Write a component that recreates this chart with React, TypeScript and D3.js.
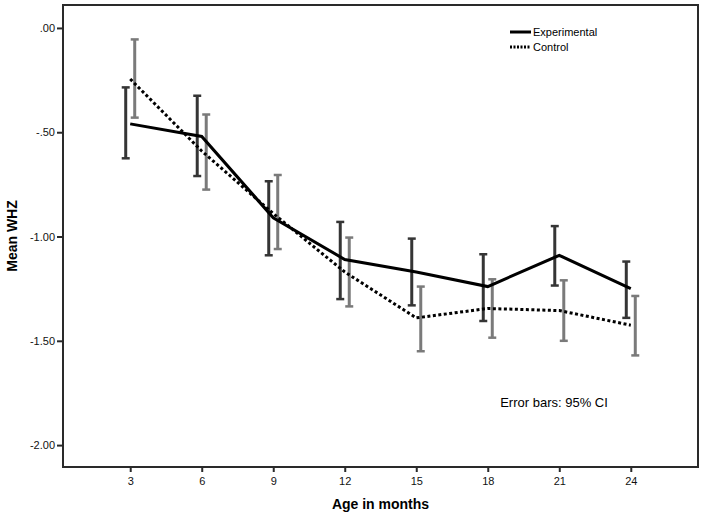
import React, { useEffect, useRef } from 'react';
import * as d3 from 'd3';

const months = ['3', '6', '9', '12', '15', '18', '21', '24'];
const yTicks = [0, -0.5, -1, -1.5, -2];

// Experimental group: mean WHZ with 95% CI
const expMean = [-0.46, -0.52, -0.91, -1.11, -1.17, -1.24, -1.09, -1.25];
const expLow = [-0.625, -0.71, -1.09, -1.3, -1.33, -1.405, -1.235, -1.39];
const expHigh = [-0.285, -0.325, -0.735, -0.93, -1.01, -1.085, -0.95, -1.12];

// Control group
const ctrlMean = [-0.245, -0.59, -0.89, -1.17, -1.39, -1.345, -1.355, -1.425];
const ctrlLow = [-0.43, -0.775, -1.06, -1.335, -1.55, -1.485, -1.5, -1.57];
const ctrlHigh = [-0.055, -0.415, -0.705, -1.005, -1.24, -1.205, -1.21, -1.285];

const W = 704;
const H = 522;
const FONT = '"Liberation Sans", Arial, sans-serif';

// SPSS style: .00, -.50, -1.00
const fmt = (d: number) => {
  const s = Math.abs(d).toFixed(2).replace(/^0\./, '.');
  return (d < 0 ? '-' : '') + s;
};

const Chart = () => {
  const ref = useRef<SVGSVGElement | null>(null);

  useEffect(() => {
    document.body.style.margin = '0';
    const svg = d3.select(ref.current);
    svg.selectAll('*').remove();

    const margin = { top: 5, right: 6, bottom: 55, left: 63 };
    const x = d3.scalePoint<string>()
      .domain(months)
      .range([margin.left, W - margin.right])
      .padding(0.94);
    const y = d3.scaleLinear()
      .domain([-2.105, 0.11])
      .range([H - margin.bottom, margin.top]);

    const series = [
      { mean: expMean, low: expLow, high: expHigh, off: -4.5, bar: '#353535', dash: null },
      { mean: ctrlMean, low: ctrlLow, high: ctrlHigh, off: 4.5, bar: '#7a7a7a', dash: '3,2.5' },
    ];

    // error bars first, lines on top
    series.forEach(s => {
      const g = svg.append('g').attr('stroke', s.bar).attr('stroke-width', 3).attr('fill', 'none');
      months.forEach((m, i) => {
        const cx = (x(m) as number) + s.off;
        g.append('line').attr('x1', cx).attr('x2', cx).attr('y1', y(s.low[i])).attr('y2', y(s.high[i]));
        [s.low[i], s.high[i]].forEach(v => {
          g.append('line')
            .attr('x1', cx - 4).attr('x2', cx + 4)
            .attr('y1', y(v)).attr('y2', y(v))
            .attr('stroke-width', 2.5);
        });
      });
    });

    const line = d3.line<number>()
      .x((d, i) => x(months[i]) as number)
      .y(d => y(d));

    series.forEach(s => {
      const p = svg.append('path')
        .datum(s.mean)
        .attr('fill', 'none')
        .attr('stroke', '#000')
        .attr('stroke-width', 3)
        .attr('d', line);
      if (s.dash) p.attr('stroke-dasharray', s.dash);
    });

    // frame
    svg.append('rect')
      .attr('x', margin.left)
      .attr('y', margin.top)
      .attr('width', W - margin.left - margin.right)
      .attr('height', H - margin.top - margin.bottom)
      .attr('fill', 'none')
      .attr('stroke', '#2a2a2a')
      .attr('stroke-width', 2);

    const yAxis = svg.append('g')
      .attr('transform', `translate(${margin.left},0)`)
      .call(d3.axisLeft(y).tickValues(yTicks).tickSize(6).tickPadding(2).tickFormat(d => fmt(d as number)));
    yAxis.select('.domain').remove();
    yAxis.selectAll('line').attr('stroke', '#2a2a2a').attr('stroke-width', 2);
    yAxis.selectAll('text').style('font-size', '11px').style('font-family', FONT).attr('fill', '#111');

    const xAxis = svg.append('g')
      .attr('transform', `translate(0,${H - margin.bottom})`)
      .call(d3.axisBottom(x).tickSize(5).tickPadding(5));
    xAxis.select('.domain').remove();
    xAxis.selectAll('line').attr('stroke', '#2a2a2a').attr('stroke-width', 2);
    xAxis.selectAll('text').style('font-size', '11px').style('font-family', FONT).attr('fill', '#111');

    // axis titles
    svg.append('text')
      .attr('x', (margin.left + W - margin.right) / 2)
      .attr('y', 509)
      .attr('text-anchor', 'middle')
      .style('font-family', FONT)
      .style('font-size', '14px')
      .style('font-weight', 'bold')
      .text('Age in months');

    svg.append('text')
      .attr('transform', `translate(17,${(margin.top + H - margin.bottom) / 2}) rotate(-90)`)
      .attr('text-anchor', 'middle')
      .style('font-family', FONT)
      .style('font-size', '14px')
      .style('font-weight', 'bold')
      .text('Mean WHZ');

    // legend
    const legend = [
      { label: 'Experimental', dash: null },
      { label: 'Control', dash: '2,1.5' },
    ];
    legend.forEach((l, i) => {
      const ly = 32 + i * 15;
      const ln = svg.append('line')
        .attr('x1', 510).attr('x2', 531)
        .attr('y1', ly).attr('y2', ly)
        .attr('stroke', '#000')
        .attr('stroke-width', 3);
      if (l.dash) ln.attr('stroke-dasharray', l.dash);
      svg.append('text')
        .attr('x', 533)
        .attr('y', ly + 4)
        .style('font-family', FONT)
        .style('font-size', '11px')
        .text(l.label);
    });

    svg.append('text')
      .attr('x', 554)
      .attr('y', 407)
      .attr('text-anchor', 'middle')
      .style('font-family', FONT)
      .style('font-size', '13px')
      .text('Error bars: 95% CI');
  }, []);

  return <svg ref={ref} width={W} height={H} style={{ display: 'block', background: '#fff' }} />;
};

export default function App() {
  return <Chart />;
}
